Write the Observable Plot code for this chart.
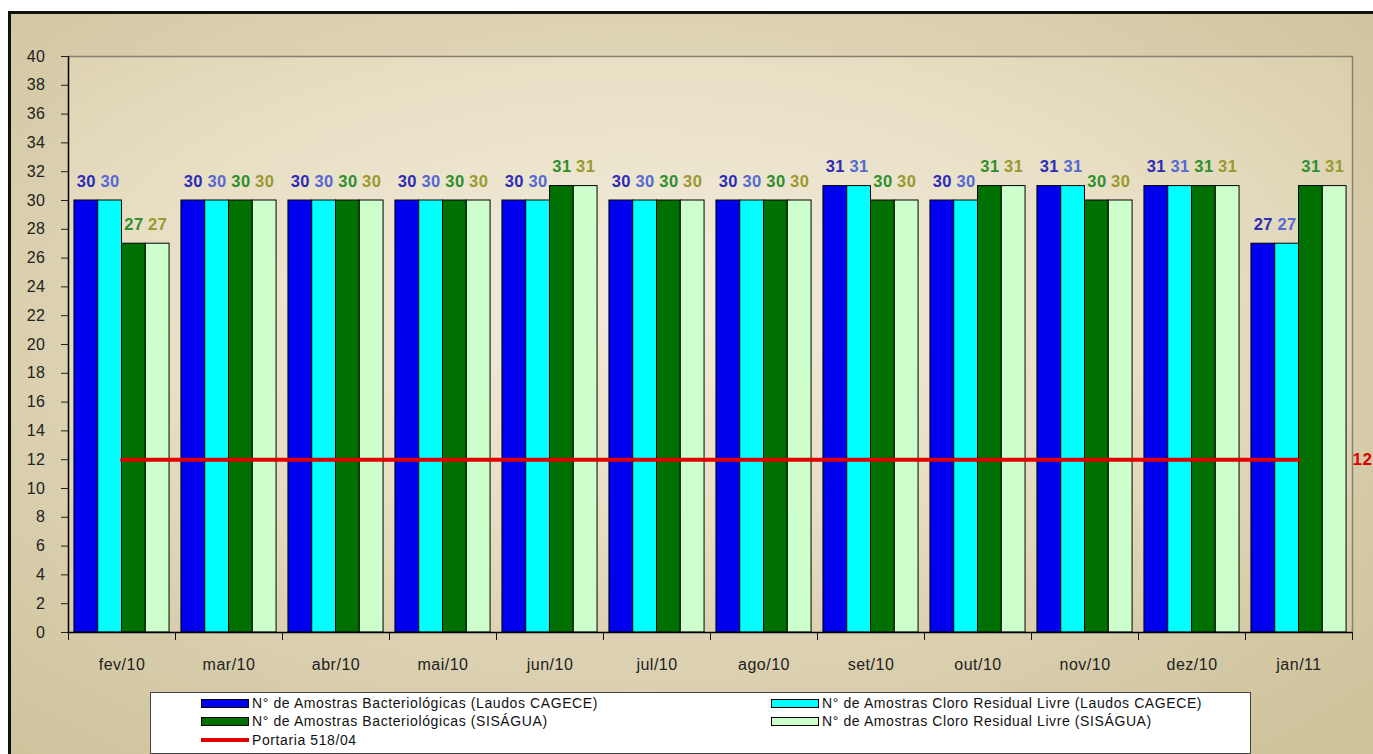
<!DOCTYPE html>
<html>
<head>
<meta charset="utf-8">
<script src="https://cdn.jsdelivr.net/npm/d3@7"></script>
<script src="https://cdn.jsdelivr.net/npm/@observablehq/plot@0.6"></script>
<style>
  html, body { margin: 0; padding: 0; background: #fff; }
  #page { position: relative; width: 1373px; height: 754px; overflow: hidden; background: #fff; }
  #panel {
    position: absolute; left: 8px; top: 11px; width: 1400px; height: 800px;
    border-left: 3px solid #111; border-top: 3px solid #111; box-sizing: border-box;
    background: radial-gradient(ellipse 70% 70% at 45% 40%, #ebe3cc 0%, #e0d6b9 45%, #cfc39c 100%);
  }
  #chart { position: absolute; left: 0; top: 0; }
  #legend {
    position: absolute; left: 150px; top: 692px; width: 1101px; height: 62px;
    background: #fff; border: 1px solid #444; box-sizing: border-box;
    font-family: "Liberation Sans", Arial, sans-serif; font-size: 14px; color: #111; letter-spacing: 0.6px;
  }
  .item { position: absolute; display: flex; align-items: center; height: 18px; white-space: nowrap; }
  .sw { width: 48px; height: 9px; border: 1px solid #000; box-sizing: border-box; margin-right: 3px; }
  .ln { width: 48px; height: 4px; margin-right: 3px; }
</style>
</head>
<body>
<svg width="0" height="0" style="position:absolute">
  <defs>
    <radialGradient id="plotGrad" cx="45%" cy="40%" r="75%">
      <stop offset="0%" stop-color="#f2ecda"/>
      <stop offset="55%" stop-color="#e7dec3"/>
      <stop offset="100%" stop-color="#d6cba7"/>
    </radialGradient>
  </defs>
</svg>
<div id="page">
  <div id="panel"></div>
  <div id="chart"></div>
  <div id="legend"></div>
</div>
<script>
const months = ["fev/10","mar/10","abr/10","mai/10","jun/10","jul/10","ago/10","set/10","out/10","nov/10","dez/10","jan/11"];
const bactCagece   = [30,30,30,30,30,30,30,31,30,31,31,27];
const cloroCagece  = [30,30,30,30,30,30,30,31,30,31,31,27];
const bactSisagua  = [27,30,30,30,31,30,30,30,31,30,31,31];
const cloroSisagua = [27,30,30,30,31,30,30,30,31,30,31,31];
const portaria     = [12,12,12,12,12,12,12,12,12,12,12,12];
const seriesNames = [
  "N° de Amostras Bacteriológicas (Laudos CAGECE)",
  "N° de Amostras Cloro Residual Livre (Laudos CAGECE)",
  "N° de Amostras Bacteriológicas (SISÁGUA)",
  "N° de Amostras Cloro Residual Livre (SISÁGUA)"
];
const lineName = "Portaria 518/04";
const yTicks = [0,2,4,6,8,10,12,14,16,18,20,22,24,26,28,30,32,34,36,38,40];
const yDomain = [0, 40];

const seriesValues = [bactCagece, cloroCagece, bactSisagua, cloroSisagua];
const barColors = ["#0000f0", "#00ffff", "#007000", "#ccffcc"];
const labelColors = ["#2c2cb8", "#5568d4", "#2f8f2f", "#99992e"];

// group layout in index units: 4 bars occupying 8/9 of each month slot
const OUT = 1 / 18, BW = 2 / 9;
const xDomain = [-0.5, months.length - 0.5];
const boundaries = d3.range(months.length + 1).map(i => i - 0.5);
const centers = months.map((m, i) => i);

const marks = [
  Plot.frame({fill: "url(#plotGrad)", stroke: null}),
  Plot.ruleY([yDomain[1]], {stroke: "#8a8070", strokeWidth: 1.5}),
  Plot.ruleX([xDomain[1]], {stroke: "#8a8070", strokeWidth: 1.5})
];
seriesValues.forEach((vals, k) => {
  marks.push(Plot.rectY(vals, {
    x1: (d, i) => i - 0.5 + OUT + k * BW,
    x2: (d, i) => i - 0.5 + OUT + (k + 1) * BW,
    y1: 0, y2: d => d,
    fill: barColors[k], stroke: "#000", strokeWidth: 1
  }));
});
marks.push(Plot.lineY(portaria, {x: (d, i) => i, y: d => d, stroke: "#e00000", strokeWidth: 4}));
seriesValues.forEach((vals, k) => {
  marks.push(Plot.text(vals, {
    x: (d, i) => i - 0.5 + OUT + (k + 0.5) * BW,
    y: d => d, text: d => String(d),
    dy: -14, lineAnchor: "bottom",
    fill: labelColors[k], fontWeight: "bold", fontSize: 16.5,
    fontFamily: "Liberation Sans, Arial, sans-serif"
  }));
});
marks.push(Plot.text([portaria[portaria.length - 1]], {
  y: d => d, text: d => String(d), frameAnchor: "right", textAnchor: "start", dx: 0,
  fill: "#e00000", fontWeight: "bold", fontSize: 17, fontFamily: "Liberation Sans, Arial, sans-serif"
}));
marks.push(
  Plot.axisY({ticks: yTicks, tickSize: 7, tickPadding: 16, fontSize: 16, color: "#222", label: null}),
  Plot.axisX({ticks: boundaries, tickSize: 8, tickFormat: () => "", label: null, color: "#111"}),
  Plot.axisX({ticks: centers, tickSize: 0, tickPadding: 26, tickFormat: i => months[i], fontSize: 16, color: "#222", label: null}),
  Plot.ruleX([xDomain[0]], {stroke: "#000", strokeWidth: 1.5}),
  Plot.ruleY([yDomain[0]], {stroke: "#000", strokeWidth: 1.5})
);

const chart = Plot.plot({
  width: 1373, height: 690,
  marginLeft: 68, marginRight: 21, marginTop: 56, marginBottom: 58,
  style: {background: "transparent", fontFamily: "Liberation Sans, Arial, sans-serif", letterSpacing: "0.5px"},
  x: {type: "linear", domain: xDomain},
  y: {domain: yDomain},
  marks
});
document.getElementById("chart").appendChild(chart);

// legend
const legend = document.getElementById("legend");
const positions = [[50, 1], [620, 1], [50, 19], [620, 19]];
seriesNames.forEach((name, k) => {
  const it = document.createElement("div");
  it.className = "item";
  it.style.left = positions[k][0] + "px"; it.style.top = positions[k][1] + "px";
  it.innerHTML = `<span class="sw" style="background:${barColors[k]}"></span><span>${name}</span>`;
  legend.appendChild(it);
});
const li = document.createElement("div");
li.className = "item"; li.style.left = "50px"; li.style.top = "38px";
li.innerHTML = `<span class="ln" style="background:#e00000"></span><span>${lineName}</span>`;
legend.appendChild(li);
</script>
</body>
</html>
